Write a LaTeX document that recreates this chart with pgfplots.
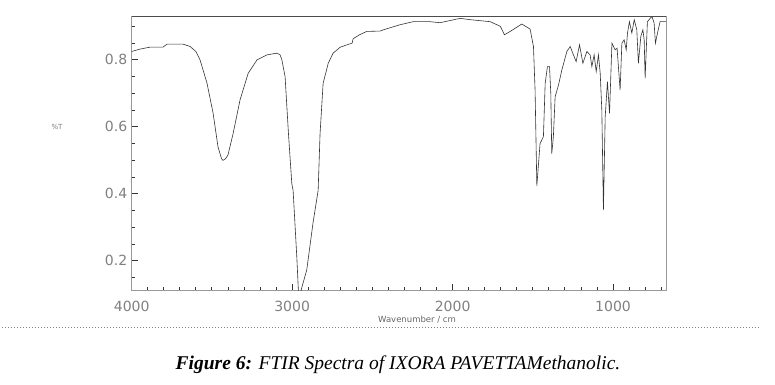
\documentclass[border=0pt]{standalone}
\usepackage{fontspec}
\setmainfont{Liberation Serif}
\newfontfamily\tickfont{DejaVu Sans}
\usepackage{pgfplots}
\pgfplotsset{compat=1.18}
\begin{document}
\begin{tikzpicture}[x=1pt,y=1pt]
\useasboundingbox (0,0) rectangle (775,384);
\begin{axis}[
  at={(131.7pt,94pt)}, anchor=south west,
  scale only axis, width=534.3pt, height=274pt,
  xmin=670, xmax=4000, x dir=reverse,
  ymin=0.113, ymax=0.931,
  xtick={1000,2000,3000,4000}, xticklabels={1000,2000,3000,4000},
  minor xtick={700,800,...,4000},
  ytick={0.2,0.4,0.6,0.8}, yticklabels={0.2,0.4,0.6,0.8},
  minor ytick={0.15,0.25,0.3,0.35,0.45,0.5,0.55,0.65,0.7,0.75,0.85,0.9},
  tick align=inside, xtick pos=bottom, ytick pos=left,
  major tick length=6pt, minor tick length=3.5pt,
  axis line style={gray!80, line width=0.8pt},
  every tick/.style={black!80, line width=0.9pt},
  every minor tick/.style={black!80, line width=0.9pt},
  ticklabel style={font=\tickfont\fontsize{14}{16}\selectfont, text=gray},
  xticklabel style={yshift=-8pt},
  yticklabel style={xshift=-1pt},
  /pgf/number format/assume math mode=true,
]
\addplot[black!80, line width=0.6pt] coordinates {
(4000,0.825) (3950,0.832) (3886,0.838) (3805,0.838) (3780,0.847) (3680,0.847)
(3636,0.840) (3600,0.825) (3574,0.800) (3531,0.731) (3493,0.642) (3462,0.540)
(3440,0.505) (3431,0.500) (3415,0.505) (3400,0.516) (3368,0.580) (3325,0.680)
(3274,0.760) (3219,0.800) (3157,0.815) (3095,0.820) (3075,0.815) (3064,0.800)
(3044,0.750) (3023,0.580) (3002,0.430) (2994,0.410) (2971,0.212) (2960,0.100)
(2950,0.100) (2940,0.120) (2909,0.173) (2870,0.313) (2838,0.410) (2826,0.580)
(2807,0.730) (2775,0.790) (2745,0.820) (2700,0.838) (2658,0.845) (2626,0.850)
(2620,0.863) (2580,0.875) (2535,0.885) (2452,0.886) (2430,0.890) (2327,0.905)
(2246,0.914) (2140,0.914) (2078,0.911) (1953,0.924) (1890,0.920) (1765,0.914)
(1702,0.900) (1677,0.875) (1641,0.885) (1569,0.907) (1517,0.892) (1496,0.840)
(1486,0.710) (1475,0.424) (1455,0.550) (1434,0.571) (1423,0.730) (1409,0.780)
(1396,0.780) (1388,0.700) (1382,0.520) (1372,0.570) (1361,0.690) (1340,0.725)
(1319,0.770) (1288,0.825) (1267,0.840) (1247,0.815) (1230,0.795) (1209,0.845)
(1188,0.790) (1163,0.825) (1143,0.815) (1132,0.780) (1118,0.815) (1105,0.765)
(1091,0.815) (1080,0.760) (1070,0.650) (1060,0.352) (1049,0.630) (1035,0.735)
(1022,0.640) (1007,0.850) (987,0.830) (975,0.835) (956,0.710) (945,0.850)
(931,0.860) (918,0.830) (910,0.880) (898,0.914) (883,0.880) (868,0.920)
(852,0.890) (842,0.790) (827,0.870) (814,0.890) (806,0.860) (800,0.745)
(786,0.914) (758,0.930) (744,0.910) (736,0.850) (723,0.880) (707,0.914)
(670,0.914)
};
\draw[black!70, line width=0.8pt] (rel axis cs:0,1) -- (rel axis cs:1,1);
\end{axis}
\node[font=\tickfont\fontsize{7}{8}\selectfont, text=gray] at (57,257) {\%T};
\node[font=\tickfont\fontsize{8.5}{10}\selectfont, text=gray!80!black] at (417,64) {Wavenumber / cm};
\draw[gray, dotted, line width=1pt] (2,57) -- (760,57);
\node[font=\fontsize{19.5}{22}\selectfont] at (398,19) {\textbf{\textit{Figure 6:}} \textit{FTIR Spectra of IXORA PAVETTAMethanolic.}};
\end{tikzpicture}
\end{document}
